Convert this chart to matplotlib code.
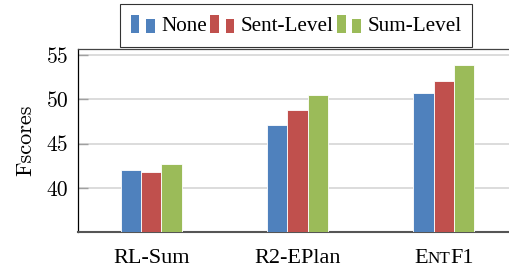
import numpy as np
import matplotlib
matplotlib.use("Agg")
import matplotlib.pyplot as plt
from matplotlib.patches import Rectangle
from matplotlib.legend_handler import HandlerBase
from matplotlib.offsetbox import TextArea, HPacker, AnnotationBbox

# data
categories = ["RL-Sum", "R2-EPlan", "EntF1"]
series_names = ["None", "Sent-Level", "Sum-Level"]
none_vals = [42.05, 47.15, 50.7]
sent_vals = [41.8, 48.8, 52.15]
sum_vals = [42.75, 50.5, 53.85]
colors = ["#4f81bd", "#c0504d", "#9bbb59"]
yticks = [40, 45, 50, 55]

plt.rcParams['font.family'] = ['Liberation Serif', 'DejaVu Serif']
plt.rcParams['axes.formatter.use_mathtext'] = True


class TwoBarHandler(HandlerBase):
    # pgfplots style ybar legend: two little bars of different height
    def create_artists(self, legend, orig_handle, xdescent, ydescent,
                       width, height, fontsize, trans):
        c = orig_handle.get_facecolor()
        w = width * 0.36
        y0 = -ydescent
        r1 = Rectangle((-xdescent, y0), w, height * 1.0, facecolor=c,
                       edgecolor="none", transform=trans)
        r2 = Rectangle((-xdescent + width - w, y0), w, height * 0.75,
                       facecolor=c, edgecolor="none", transform=trans)
        return [r1, r2]


fig = plt.figure(figsize=(5.09, 2.71), dpi=100)
ax = fig.add_axes([78 / 509, 1 - 232 / 271, 439 / 509, (232 - 48.7) / 271])

x = np.arange(len(categories))
bw = 0.139
handles = []
for i, (vals, name) in enumerate(zip([none_vals, sent_vals, sum_vals], series_names)):
    b = ax.bar(x + (i - 1) * bw, vals, bw, bottom=0, color=colors[i],
               edgecolor="white", linewidth=0.6, zorder=3, label=name)
    handles.append(b.patches[0])

ax.set_xlim(-0.5, 2.5)
ax.set_ylim(35, 55.75)
ax.set_yticks(yticks)
ax.set_yticklabels([str(t) for t in yticks], fontsize=15.5, fontfamily="cmr10")
ax.set_xticks(x)
ax.set_xticklabels([categories[0], categories[1], ""], fontsize=16)
ax.tick_params(axis="x", length=0, pad=12.5)
ax.tick_params(axis="y", direction="in", length=7, width=1, color="#a0a0a0", pad=7)
ax.grid(axis="y", color="#d6d6d6", linewidth=1.2, zorder=0)
ax.set_axisbelow(True)
ax.set_ylabel("Fscores", fontsize=16, fontfamily="cmr10", labelpad=8)

ax.spines["left"].set_color("black")
ax.spines["left"].set_linewidth(0.9)
ax.spines["top"].set_color("#444444")
ax.spines["top"].set_linewidth(0.9)
ax.spines["bottom"].set_color("#555555")
ax.spines["bottom"].set_linewidth(1.5)
ax.spines["right"].set_visible(False)

# small caps label for the third group
parts = [TextArea("E", textprops=dict(size=16)),
         TextArea("NT", textprops=dict(size=12.3)),
         TextArea("F1", textprops=dict(size=16))]
pack = HPacker(children=parts, align="baseline", pad=0, sep=0)
ab = AnnotationBbox(pack, (x[2], 0), xycoords=("data", "axes fraction"),
                    xybox=(0, -12.5), boxcoords="offset points",
                    box_alignment=(0.5, 1.0), frameon=False, pad=0)
ax.add_artist(ab)

leg = ax.legend(handles, series_names, handler_map={Rectangle: TwoBarHandler()},
                ncol=3, loc="lower center", bbox_to_anchor=(0.497, 1.012),
                fontsize=15.2, frameon=True, fancybox=False, edgecolor="black",
                handlelength=1.15, handleheight=0.95, handletextpad=0.3,
                columnspacing=0.15, borderpad=0.5, borderaxespad=0)
leg.get_frame().set_linewidth(0.8)

fig.savefig("out.png", dpi=100)
